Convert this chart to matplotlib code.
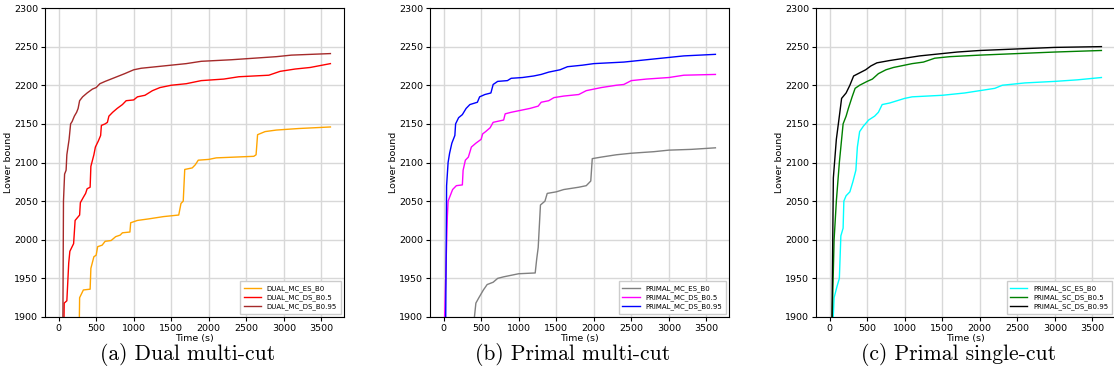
import numpy as np
import matplotlib as mpl
mpl.use('Agg')
import matplotlib.pyplot as plt

# (a) dual multi-cut
dual_es_b0_t = [270, 280, 330, 420, 430, 470, 500, 520, 580, 620, 700, 760, 820, 850, 950, 960, 1050, 1200, 1400, 1600,
                1630, 1660, 1680, 1780, 1820, 1860, 2000, 2100, 2600, 2630, 2650, 2750, 2900, 3200, 3620]
dual_es_b0_v = [1850, 1925, 1935, 1936, 1963, 1978, 1980, 1991, 1993, 1998, 1999, 2004, 2006, 2009, 2010, 2022, 2025, 2027, 2030, 2032,
                2047, 2050, 2091, 2093, 2097, 2103, 2104, 2106, 2108, 2110, 2136, 2140, 2142, 2144, 2146]
dual_ds_b05_t = [65, 75, 110, 135, 150, 200, 220, 280, 290, 330, 360, 380, 420, 430, 470, 490, 530, 560, 570, 620, 650, 670, 720,
                 780, 850, 900, 1000, 1050, 1150, 1250, 1350, 1500, 1700, 1900, 2200, 2400, 2800, 2950, 3150, 3350, 3620]
dual_ds_b05_v = [1850, 1918, 1921, 1970, 1985, 1995, 2025, 2032, 2048, 2055, 2060, 2066, 2068, 2095, 2110, 2120, 2128, 2135, 2148, 2150,
                 2152, 2160, 2165, 2170, 2175, 2180, 2181, 2185, 2187, 2193, 2197, 2200, 2202, 2206, 2208, 2211, 2213, 2218, 2221, 2223, 2228]
dual_ds_b095_t = [55, 65, 80, 100, 110, 140, 160, 180, 210, 240, 260, 280, 320, 380, 450, 500, 550, 620, 750, 880, 1000, 1100,
                  1400, 1700, 1900, 2300, 2600, 2900, 3100, 3620]
dual_ds_b095_v = [1850, 2050, 2085, 2090, 2110, 2130, 2150, 2153, 2160, 2165, 2170, 2180, 2185, 2190, 2195, 2197, 2202, 2205, 2210,
                  2215, 2220, 2222, 2225, 2228, 2231, 2233, 2235, 2237, 2239, 2241]

# (b) primal multi-cut
pmc_es_b0_t = [400, 430, 470, 530, 580, 660, 720, 800, 900, 1000, 1220, 1240, 1260, 1290, 1350, 1380, 1500, 1600, 1800, 1900,
               1960, 1980, 2100, 2300, 2500, 2800, 3000, 3300, 3620]
pmc_es_b0_v = [1890, 1918, 1925, 1935, 1942, 1945, 1950, 1952, 1954, 1956, 1957, 1975, 1990, 2045, 2050, 2060, 2062, 2065, 2068, 2070,
               2076, 2105, 2107, 2110, 2112, 2114, 2116, 2117, 2119]
pmc_ds_b05_t = [0, 50, 60, 80, 120, 170, 250, 260, 290, 330, 370, 430, 500, 520, 560, 620, 660, 800, 820, 900, 1000, 1150, 1260,
                1300, 1400, 1470, 1600, 1800, 1900, 2000, 2100, 2300, 2400, 2500, 2700, 3000, 3200, 3620]
pmc_ds_b05_v = [1850, 2030, 2050, 2055, 2065, 2070, 2071, 2090, 2103, 2107, 2120, 2125, 2130, 2137, 2140, 2145, 2152, 2155, 2163,
                2165, 2167, 2170, 2173, 2178, 2180, 2184, 2186, 2188, 2193, 2195, 2197, 2200, 2201, 2206, 2208, 2210, 2213, 2214]
pmc_ds_b095_t = [25, 40, 60, 80, 110, 150, 160, 200, 250, 300, 350, 450, 480, 550, 630, 660, 720, 850, 900, 1050, 1200, 1300,
                 1400, 1550, 1650, 1850, 2000, 2200, 2400, 2600, 2800, 3000, 3200, 3620]
pmc_ds_b095_v = [1850, 2070, 2100, 2112, 2125, 2135, 2150, 2158, 2162, 2170, 2175, 2178, 2185, 2188, 2190, 2201, 2205, 2206, 2209,
                 2210, 2212, 2214, 2217, 2220, 2224, 2226, 2228, 2229, 2230, 2232, 2234, 2236, 2238, 2240]

# (c) primal single-cut
psc_es_b0_t = [40, 60, 100, 130, 150, 180, 190, 220, 270, 310, 350, 370, 400, 450, 520, 600, 650, 700, 800, 900, 1000, 1100,
               1500, 1800, 2000, 2200, 2300, 2600, 3000, 3300, 3620]
psc_es_b0_v = [1880, 1925, 1940, 1950, 2005, 2015, 2050, 2057, 2062, 2075, 2090, 2120, 2140, 2147, 2155, 2160, 2165, 2175, 2177,
               2180, 2183, 2185, 2187, 2190, 2193, 2196, 2200, 2203, 2205, 2207, 2210]
psc_ds_b05_t = [30, 60, 90, 130, 180, 220, 250, 300, 340, 400, 500, 570, 650, 750, 850, 1000, 1100, 1250, 1400, 1600, 2000, 2500,
                3000, 3620]
psc_ds_b05_v = [1880, 2000, 2050, 2100, 2150, 2160, 2170, 2185, 2196, 2200, 2205, 2208, 2215, 2220, 2223, 2226, 2228, 2230, 2235,
                2237, 2239, 2241, 2243, 2245]
psc_ds_b095_t = [30, 50, 90, 130, 160, 220, 270, 320, 380, 480, 550, 630, 800, 1000, 1200, 1400, 1700, 2000, 2500, 3000, 3620]
psc_ds_b095_v = [1880, 2080, 2130, 2160, 2183, 2190, 2200, 2212, 2215, 2220, 2225, 2229, 2232, 2235, 2238, 2240, 2243, 2245, 2247,
                 2249, 2250]

panels = [
    ('(a) Dual multi-cut', [
        ('DUAL_MC_ES_B0', dual_es_b0_t, dual_es_b0_v, 'orange'),
        ('DUAL_MC_DS_B0.5', dual_ds_b05_t, dual_ds_b05_v, 'red'),
        ('DUAL_MC_DS_B0.95', dual_ds_b095_t, dual_ds_b095_v, 'brown'),
    ]),
    ('(b) Primal multi-cut', [
        ('PRIMAL_MC_ES_B0', pmc_es_b0_t, pmc_es_b0_v, 'gray'),
        ('PRIMAL_MC_DS_B0.5', pmc_ds_b05_t, pmc_ds_b05_v, 'magenta'),
        ('PRIMAL_MC_DS_B0.95', pmc_ds_b095_t, pmc_ds_b095_v, 'blue'),
    ]),
    ('(c) Primal single-cut', [
        ('PRIMAL_SC_ES_B0', psc_es_b0_t, psc_es_b0_v, 'cyan'),
        ('PRIMAL_SC_DS_B0.5', psc_ds_b05_t, psc_ds_b05_v, 'green'),
        ('PRIMAL_SC_DS_B0.95', psc_ds_b095_t, psc_ds_b095_v, 'black'),
    ]),
]

W, H = 1114, 378
fig = plt.figure(figsize=(W / 100, H / 100), dpi=100, facecolor='white')
lefts = [45, 430, 816]
for left, (caption, series) in zip(lefts, panels):
    ax = fig.add_axes([left / W, 1 - 317 / H, 299 / W, 309 / H])
    for label, t, v, color in series:
        ax.plot(t, v, color=color, linewidth=1.0, label=label)
    ax.set_xlim(-181, 3801)
    ax.set_ylim(1900, 2300)
    ax.set_xticks([0, 500, 1000, 1500, 2000, 2500, 3000, 3500])
    ax.set_yticks([1900, 1950, 2000, 2050, 2100, 2150, 2200, 2250, 2300])
    ax.tick_params(labelsize=6.8, length=3, width=0.8, pad=2)
    ax.grid(color='#d8d8d8', linewidth=1.0)
    ax.set_axisbelow(True)
    ax.set_xlabel('Time (s)', fontsize=6.8, labelpad=1)
    ax.set_ylabel('Lower bound', fontsize=6.8, labelpad=1)
    ax.legend(loc='lower right', fontsize=5, handlelength=2.5, borderpad=0.5,
              labelspacing=0.35, fancybox=False, framealpha=1)
    fig.text((left + 143) / W, 1 - 354 / H, caption, fontsize=15.5,
             family='cmr10', ha='center', va='center')

plt.savefig('out.png', dpi=100)
